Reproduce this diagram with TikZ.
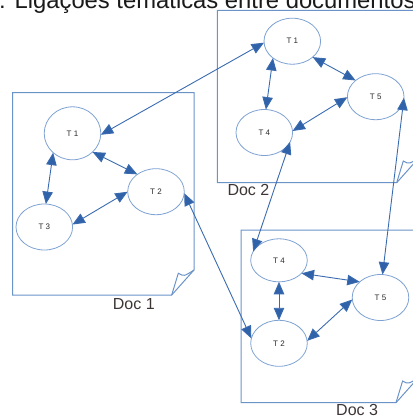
\documentclass[tikz,border=0pt]{standalone}
\usepackage{fontspec}
\setmainfont{Liberation Sans}
\usetikzlibrary{shapes.geometric,arrows.meta}

\definecolor{boxblue}{HTML}{6A93C8}
\definecolor{ellblue}{HTML}{7EA2D2}
\definecolor{arrowblue}{HTML}{3A6BB0}
\definecolor{headblue}{HTML}{2F62A8}
\definecolor{labelgray}{HTML}{2A2A2A}
\definecolor{doctext}{HTML}{3E3535}
\definecolor{titletext}{HTML}{1A1A1A}

\tikzset{
  docpage/.style={draw=boxblue, line width=1pt, line join=miter},
  topic/.style={ellipse, draw=ellblue, line width=0.8pt,
    minimum width=56.6pt, minimum height=46pt, inner sep=0pt, outer sep=0pt,
    font=\fontsize{8}{8}\selectfont, text=labelgray},
  link/.style={draw=arrowblue, line width=0.9pt,
    {Triangle[length=12.5pt,width=10.5pt,fill=headblue]}-{Triangle[length=12.5pt,width=10.5pt,fill=headblue]}},
  doclabel/.style={font=\fontsize{16}{16}\selectfont, text=doctext,
    anchor=base west, inner sep=0pt},
}

\begin{document}
\begin{tikzpicture}[x=1pt,y=-1pt]
\useasboundingbox (0,0) rectangle (413,416);
\clip (0,0) rectangle (413,416);

% caption line, cut at the top edge
\node[anchor=base west, inner sep=0pt, text=titletext,
      font=\fontsize{23.8}{23.8}\selectfont] (title) at (-1,8) {: Ligações temáticas entre documentos};

% document pages with folded bottom-right corner
\draw[docpage] (12.7,92.7) -- (194,92.7) -- (194,270) -- (171.7,295) -- (12.7,295) -- cycle;
\draw[docpage] (171.7,295) -- (178.3,273.3) .. controls (184,276.5) .. (194,270);

\draw[docpage] (217.3,10.3) -- (419,10.3) -- (419,157.7) -- (396.7,182.7) -- (217.3,182.7) -- cycle;
\draw[docpage] (396.7,182.7) -- (403.3,161) .. controls (409,164.2) .. (419,157.7);

\draw[docpage] (241.2,230) -- (418.3,230) -- (418.3,377.7) -- (396,402.7) -- (241.2,402.7) -- cycle;
\draw[docpage] (396,402.7) -- (402.6,381) .. controls (408.3,384.2) .. (418.3,377.7);

\node[doclabel] (doc1) at (112.7,309.2) {Doc 1};
\node[doclabel] (doc2) at (227.3,195.5) {Doc 2};
\node[doclabel] (doc3) at (336,415) {Doc 3};

% topics of Doc 1
\node[topic, minimum height=53pt] (d1t1) at (72.5,133.3) {T 1};
\node[topic] (d1t2) at (156,191.7) {T 2};
\node[topic] (d1t3) at (44.3,227) {T 3};

% topics of Doc 2
\node[topic] (d2t1) at (292.3,41.2) {T 1};
\node[topic] (d2t5) at (375.7,96.7) {T 5};
\node[topic] (d2t4) at (264.3,132.5) {T 4};

% topics of Doc 3
\node[topic, minimum height=43pt] (d3t4) at (279,260.3) {T 4};
\node[topic] (d3t5) at (380.5,297.5) {T 5};
\node[topic] (d3t2) at (279,343.3) {T 2};

% links inside each document
\draw[link] (d1t1.225) -- (d1t3.86);
\draw[link] (d1t1.317) -- (d1t2.137);
\draw[link] (d1t2.180) -- (d1t3.5);

\draw[link] (d2t1.221) -- (d2t4.86);
\draw[link] (d2t1.322) -- (d2t5.141);
\draw[link] (d2t5.181) -- (d2t4.3);

\draw[link] (d3t4.330) -- (d3t5.143);
\draw[link] (d3t4.270) -- (d3t2.90);
\draw[link] (d3t2.5) -- (d3t5.184);

% links between documents
\draw[link] (d1t1.357) -- (d2t1.183);
\draw[link] (d1t2.357) -- (d3t2.170);
\draw[link] (d2t4.340) -- (d3t4.161);
\draw[link] (d2t5.358) -- (d3t5.85);
\end{tikzpicture}
\end{document}
